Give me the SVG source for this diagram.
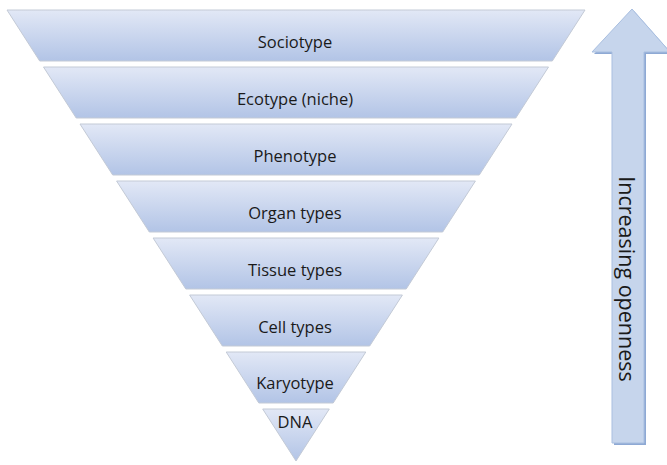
<svg xmlns="http://www.w3.org/2000/svg" width="667" height="465" viewBox="0 0 667 465">
  <defs>
    <linearGradient id="bandFill" x1="0" y1="0" x2="0" y2="1">
      <stop offset="0" stop-color="#e2e8f6"/>
      <stop offset="1" stop-color="#b2c4e6"/>
    </linearGradient>
  </defs>
  <style>
    .band { fill: url(#bandFill); stroke: #c3cad6; stroke-width: 1; }
    .label { font-family: "Open Sans", "Liberation Sans", sans-serif; font-size: 16.5px; fill: #1a1a1a; text-anchor: middle; }
    .arrow { fill: #c6d5ec; stroke: #a9bfe0; stroke-width: 1; }
    .arrow-shadow { fill: #8ea9d4; }
    .arrow-label { font-family: "Open Sans", "Liberation Sans", sans-serif; font-size: 21.5px; fill: #1a1a1a; text-anchor: middle; }
  </style>

  <!-- inverted pyramid of levels -->
  <g id="sociotype">
    <polygon class="band" points="7,10 585,10 552.3,61 39.7,61"/>
    <text class="label" x="295" y="48">Sociotype</text>
  </g>
  <g id="ecotype">
    <polygon class="band" points="43.5,67 548.5,67 515.8,118 76.2,118"/>
    <text class="label" x="295" y="105">Ecotype (niche)</text>
  </g>
  <g id="phenotype">
    <polygon class="band" points="80,124 512,124 479.3,175 112.7,175"/>
    <text class="label" x="295" y="162">Phenotype</text>
  </g>
  <g id="organ-types">
    <polygon class="band" points="116.6,181 475.4,181 442.7,232 149.3,232"/>
    <text class="label" x="295" y="219">Organ types</text>
  </g>
  <g id="tissue-types">
    <polygon class="band" points="153.1,238 438.9,238 406.2,289 185.8,289"/>
    <text class="label" x="295" y="276">Tissue types</text>
  </g>
  <g id="cell-types">
    <polygon class="band" points="189.6,295 402.4,295 369.7,346 222.3,346"/>
    <text class="label" x="295" y="333">Cell types</text>
  </g>
  <g id="karyotype">
    <polygon class="band" points="226.2,352 365.8,352 333.2,403 258.8,403"/>
    <text class="label" x="295" y="389">Karyotype</text>
  </g>
  <g id="dna">
    <polygon class="band" points="262.7,409 329.3,409 296,461"/>
    <text class="label" x="295" y="428">DNA</text>
  </g>

  <!-- openness arrow -->
  <g id="openness-arrow">
    <polygon class="arrow-shadow" points="634,11 672,54 646,54 646,445 614,445 614,54 594,54"/>
    <polygon class="arrow" points="632,9 670,52 644,52 644,443 612,443 612,52 592,52"/>
    <text class="arrow-label" transform="translate(619,279) rotate(90)" x="0" y="0">Increasing openness</text>
  </g>
</svg>
